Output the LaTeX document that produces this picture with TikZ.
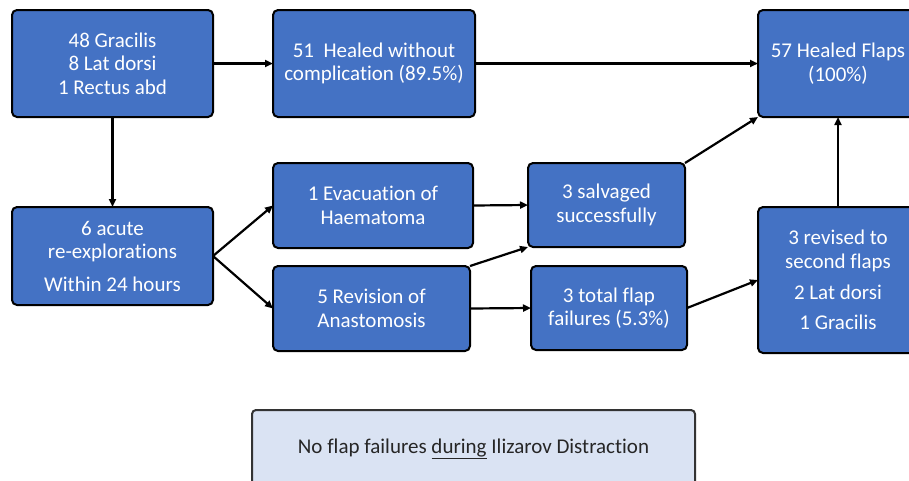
\documentclass[tikz,border=0pt]{standalone}
\usepackage{fontspec}
\setmainfont{Carlito}[Ligatures={NoCommon}]
\usepackage{tikz}
\usetikzlibrary{arrows.meta}
\definecolor{boxblue}{HTML}{4472C4}
\definecolor{noteblue}{HTML}{DAE3F3}
\tikzset{%
	flapbox/.style = { draw=black, fill=boxblue, rounded corners=5pt, line width=2pt, text=white, align=center, inner sep=0pt, outer sep=0pt, font=\fontsize{21}{23.5}\selectfont },
	notebox/.style = { draw=black!80, fill=noteblue, rounded corners=4pt, line width=2pt, text=black!85, align=center, inner sep=0pt, outer sep=0pt, font=\fontsize{21}{24}\selectfont },
	flow/.style = { line width=2.2pt, -{Triangle[length=8pt,width=7pt]} }
}

\begin{document}
\begin{tikzpicture}[x=1pt, y=-1pt]
	\useasboundingbox (0,0) rectangle (909,480);
	% 1. first row
	\node[flapbox, minimum width=201, minimum height=107] (flaps) at (112.5,63.5) {48 Gracilis\\8 Lat dorsi\\1 Rectus abd};
	\node[flapbox, minimum width=202, minimum height=107] (healed) at (374,63.5) {51~~Healed without\\complication (89.5\%)};
	\node[flapbox, minimum width=160, minimum height=107] (total) at (838,63.5) {57 Healed Flaps\\(100\%)};
	
	% 2. re-explorations
	\node[flapbox, minimum width=201, minimum height=98] (acute) at (112.5,256) {6 acute\\re-explorations\\[9pt]Within 24 hours};
	\node[flapbox, minimum width=200, minimum height=85] (evac) at (373,205.5) {1 Evacuation of\\Haematoma};
	\node[flapbox, minimum width=197, minimum height=85] (revision) at (371.5,308.5) {5 Revision of\\Anastomosis};
	\node[flapbox, minimum width=157, minimum height=84] (salvaged) at (606.5,205) {3 salvaged\\successfully};
	\node[flapbox, minimum width=156, minimum height=84] (failures) at (609,308) {3 total flap\\failures (5.3\%)};
	\node[flapbox, minimum width=160, minimum height=146] (second) at (838,280) {3 revised to\\second flaps\\[8pt]2 Lat dorsi\\[6pt]1 Gracilis};
	
	% 3. note
	\node[notebox, minimum width=443, minimum height=78] (note) at (473.5,449) {No flap failures \underline{during} Ilizarov Distraction};
	
	% connectors
	\draw[flow] (flaps.east) -- (healed.west);
	\draw[flow] (healed.east) -- (total.west);
	\draw[flow] (flaps.south) -- (acute.north);
	\draw[flow] (acute.east) -- (evac.west);
	\draw[flow] (acute.east) -- (revision.west);
	\draw[flow] (evac.east) -- (salvaged.west);
	\draw[flow] (revision.north east) -- (salvaged.south west);
	\draw[flow] (revision.east) -- (failures.west);
	\draw[flow] (salvaged.north east) -- (total.south west);
	\draw[flow] (failures.east) -- (second.west);
	\draw[flow] (second.north) -- (total.south);
\end{tikzpicture}
\end{document}
